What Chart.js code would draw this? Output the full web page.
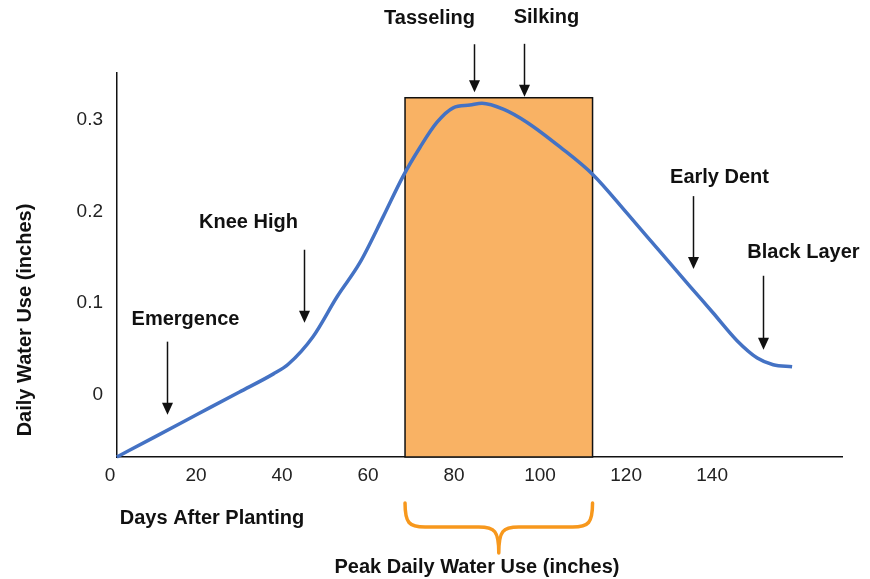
<!DOCTYPE html>
<html><head><meta charset="utf-8">
<script src="https://cdn.jsdelivr.net/npm/chart.js@4.4.1/dist/chart.umd.min.js"></script>
<style>html,body{margin:0;padding:0;background:#fff;}#wrap{width:870px;height:579px;}</style>
</head><body><div id="wrap"><canvas id="c" width="870" height="579"></canvas></div>
<script>
// ---- data ----
const DAYS = [1.6, 10, 20, 30, 38, 41.5, 47.2, 52.8, 58.1, 63.5, 68.1, 72.1, 76.0, 79.8, 83.7, 86.5, 91.7, 97.0, 104.7, 112.3, 120.2, 127.9, 134.9, 140.2, 145.8, 150.5, 154.2, 158.6];
const WATER_USE = [-0.068, -0.0471, -0.0222, 0.0027, 0.0227, 0.0335, 0.0633, 0.1069, 0.144, 0.194, 0.238, 0.270, 0.297, 0.313, 0.316, 0.318, 0.311, 0.297, 0.270, 0.240, 0.198, 0.156, 0.118, 0.0894, 0.0589, 0.040, 0.0327, 0.0305];
const X_TICKS = [0, 20, 40, 60, 80, 100, 120, 140];
const Y_TICKS = [0, 0.1, 0.2, 0.3];
const X_MIN = 1.63, X_MAX = 170.2;
const Y_MIN = -0.068, Y_MAX = 0.351;
const PEAK_START = 68.6, PEAK_END = 112.2, PEAK_TOP = 0.324;
const STAGES = ['Emergence', 'Knee High', 'Tasseling', 'Silking', 'Early Dent', 'Black Layer'];
const STAGE_DAYS = [13.3, 45.1, 84.65, 96.3, 135.6, 151.9];
const STAGE_LEVELS = [-0.0218, 0.0785, 0.330, 0.325, 0.137, 0.049];
const X_TITLE = 'Days After Planting';
const Y_TITLE = 'Daily Water Use (inches)';
const PEAK_TITLE = 'Peak Daily Water Use (inches)';

// ---- style / layout (pixels) ----
const FONT = '"Liberation Sans", Arial, sans-serif';
const ARROW_LEN = [73, 73, 48, 53, 73, 74];
const LABEL_DX = [18, -56, -45, 22, 26, 40];
const LABEL_DY = [22, 27, 26, 26, 19, 23];

const overlay = {
  id: 'overlay',
  beforeDatasetsDraw(chart) {
    const {ctx, scales: {x, y}} = chart;
    const l = x.getPixelForValue(PEAK_START), r = x.getPixelForValue(PEAK_END);
    const t = y.getPixelForValue(PEAK_TOP), b = y.getPixelForValue(Y_MIN);
    ctx.save();
    ctx.fillStyle = '#F9B264';
    ctx.fillRect(l, t, r - l, b - t);
    ctx.strokeStyle = '#111';
    ctx.lineWidth = 1.5;
    ctx.strokeRect(l, t, r - l, b - t);
    ctx.restore();
  },
  afterDraw(chart) {
    const {ctx, scales: {x, y}} = chart;
    ctx.save();
    ctx.fillStyle = '#111';
    ctx.strokeStyle = '#111';
    ctx.font = 'bold 20px ' + FONT;
    ctx.textAlign = 'center';
    ctx.textBaseline = 'middle';
    STAGES.forEach((name, i) => {
      const ax = Math.round(x.getPixelForValue(STAGE_DAYS[i])) + 0.5;
      const tip = y.getPixelForValue(STAGE_LEVELS[i]);
      const top = tip - ARROW_LEN[i];
      ctx.lineWidth = 1.5;
      ctx.beginPath(); ctx.moveTo(ax, top); ctx.lineTo(ax, tip - 10); ctx.stroke();
      ctx.beginPath(); ctx.moveTo(ax, tip); ctx.lineTo(ax - 5.5, tip - 12); ctx.lineTo(ax + 5.5, tip - 12); ctx.closePath(); ctx.fill();
      ctx.fillText(name, ax + LABEL_DX[i], top - LABEL_DY[i]);
    });
    // titles
    ctx.fillText(X_TITLE, 212, 518);
    ctx.fillText(PEAK_TITLE, 477, 567);
    ctx.save();
    ctx.translate(25, 320);
    ctx.rotate(-Math.PI / 2);
    ctx.fillText(Y_TITLE, 0, 0);
    ctx.restore();
    // brace
    const bl = x.getPixelForValue(PEAK_START), br = x.getPixelForValue(PEAK_END);
    const cx = (bl + br) / 2, top = 503, mid = 527, tipY = 553, rad = 20;
    ctx.strokeStyle = '#F7981D';
    ctx.lineWidth = 3.5;
    ctx.lineCap = 'round';
    ctx.lineJoin = 'round';
    ctx.beginPath();
    ctx.moveTo(bl, top);
    ctx.bezierCurveTo(bl, mid - 4, bl + 4, mid, bl + rad, mid);
    ctx.lineTo(cx - rad, mid);
    ctx.bezierCurveTo(cx - 4, mid, cx, mid + 4, cx, tipY);
    ctx.moveTo(cx, tipY);
    ctx.bezierCurveTo(cx, mid + 4, cx + 4, mid, cx + rad, mid);
    ctx.lineTo(br - rad, mid);
    ctx.bezierCurveTo(br - 4, mid, br, mid - 4, br, top);
    ctx.stroke();
    ctx.restore();
  }
};

new Chart(document.getElementById('c').getContext('2d'), {
  type: 'line',
  data: {
    datasets: [{
      data: DAYS.map((d, i) => ({x: d, y: WATER_USE[i]})),
      borderColor: '#4472C4',
      borderWidth: 3.5,
      pointRadius: 0,
      cubicInterpolationMode: 'monotone',
      fill: false,
      clip: 4
    }]
  },
  options: {
    responsive: false,
    animation: false,
    devicePixelRatio: 1,
    layout: {padding: {left: 0, right: 28, top: 73, bottom: 0}},
    plugins: {legend: {display: false}, tooltip: {enabled: false}, title: {display: false}},
    scales: {
      x: {
        type: 'linear', min: X_MIN, max: X_MAX,
        grid: {display: false, drawTicks: false},
        border: {display: true, color: '#111', width: 1.5},
        ticks: {font: {family: FONT, size: 19}, color: '#222', padding: 7, autoSkip: false, maxRotation: 0, callback: v => String(v)},
        afterBuildTicks: s => { s.ticks = X_TICKS.map(v => ({value: v})); },
        afterFit: s => { s.height = 122; }
      },
      y: {
        type: 'linear', min: Y_MIN, max: Y_MAX,
        grid: {display: false, drawTicks: false},
        border: {display: true, color: '#111', width: 1.5},
        ticks: {font: {family: FONT, size: 19}, color: '#222', padding: 14, autoSkip: false, callback: v => String(v)},
        afterBuildTicks: s => { s.ticks = Y_TICKS.map(v => ({value: v})); },
        afterFit: s => { s.width = 117; }
      }
    }
  },
  plugins: [overlay]
});
</script></body></html>
